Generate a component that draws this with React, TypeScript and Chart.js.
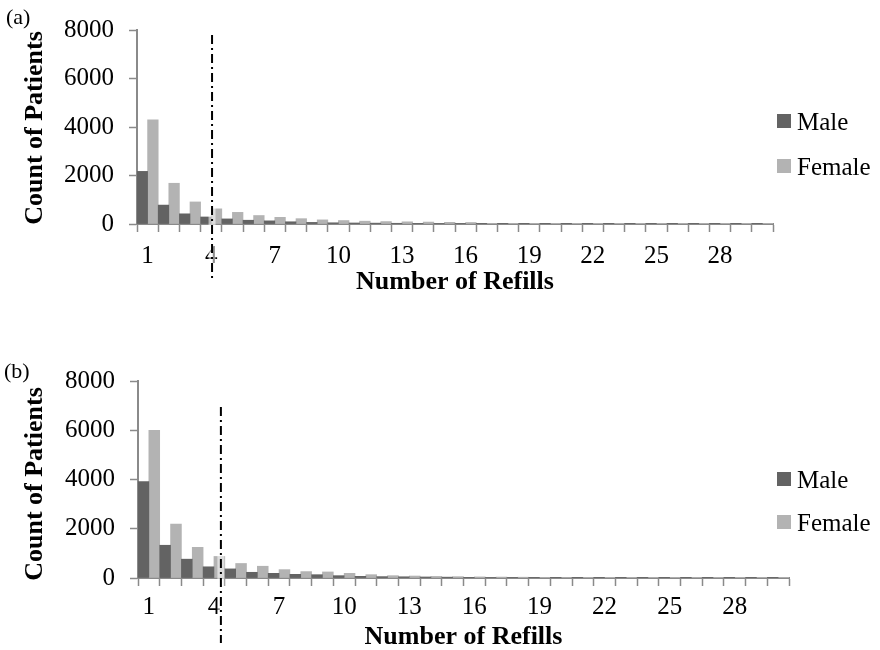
import React, { useEffect, useRef } from "react";
import { Chart, registerables } from "chart.js";

Chart.register(...registerables);

// ---------- data ----------
const refillLabels = [
  "1", "2", "3", "4", "5", "6", "7", "8", "9", "10",
  "11", "12", "13", "14", "15", "16", "17", "18", "19", "20",
  "21", "22", "23", "24", "25", "26", "27", "28", "29", "30",
];

const maleA = [
  2170, 780, 420, 290, 210, 156, 130, 92, 66, 50,
  42, 36, 30, 26, 22, 18, 10, 8, 7, 6,
  5, 4, 4, 3, 3, 2, 2, 2, 1, 1,
];
const femaleA = [
  4300, 1680, 910, 625, 480, 350, 275, 220, 170, 143,
  117, 100, 90, 80, 70, 62, 14, 12, 10, 8,
  7, 6, 5, 4, 4, 3, 3, 2, 2, 1,
];

const maleB = [
  3920, 1330, 765, 455, 370, 232, 190, 150, 135, 95,
  68, 56, 50, 42, 35, 28, 22, 18, 15, 12,
  6, 5, 4, 4, 3, 3, 2, 2, 1, 1,
];
const femaleB = [
  6000, 2190, 1245, 875, 590, 478, 340, 260, 246, 190,
  135, 95, 80, 65, 55, 45, 38, 32, 27, 22,
  9, 8, 7, 6, 5, 4, 3, 3, 2, 2,
];

const yTickValues = [0, 2000, 4000, 6000, 8000];
const seriesNames = ["Male", "Female"];
const cutoffA = 4.04;
const cutoffB = 4.32;

// ---------- styles ----------
const MALE_COLOR = "#636363";
const FEMALE_COLOR = "#b3b3b3";
const AXIS_COLOR = "#8a8a8a";
const FONT = '"Liberation Serif", "Times New Roman", serif';

type PanelProps = {
  male: number[];
  female: number[];
  cutoff: number;
  label: string;
  height: number;
  plotLeft: number;
  plotRight: number;
  plotTop: number;
  plotBottom: number;
  tickPad: number;
  titlePad: number;
  yTitleY: number;
  labelX: number;
  labelY: number;
  legendTop: number;
  legendGap: number;
  lineTop: number;
  lineBottom: number;
};

function Panel(p: PanelProps) {
  const ref = useRef<HTMLCanvasElement | null>(null);

  useEffect(() => {
    if (!ref.current) return;
    const W = 880;

    const overlay = {
      id: "overlay",
      afterDraw(chart: any) {
        const { ctx } = chart;
        const x = chart.scales.x;
        ctx.save();
        // panel label
        ctx.fillStyle = "#000";
        ctx.font = `22px ${FONT}`;
        ctx.textAlign = "left";
        ctx.textBaseline = "alphabetic";
        ctx.fillText(p.label, p.labelX, p.labelY);

        // y-axis title
        ctx.save();
        ctx.translate(42, p.yTitleY);
        ctx.rotate(-Math.PI / 2);
        ctx.font = `bold 26px ${FONT}`;
        ctx.textAlign = "center";
        ctx.fillText("Count of Patients", 0, 0);
        ctx.restore();

        // legend
        chart.data.datasets.forEach((ds: any, i: number) => {
          const top = p.legendTop + i * p.legendGap;
          ctx.fillStyle = ds.backgroundColor;
          ctx.fillRect(777, top, 14, 14);
          ctx.fillStyle = "#000";
          ctx.font = `25px ${FONT}`;
          ctx.textAlign = "left";
          ctx.textBaseline = "alphabetic";
          ctx.fillText(ds.label, 797, top + 16);
        });

        // cutoff dash-dot line
        const n = chart.data.labels.length;
        const cw = (x.right - x.left) / n;
        const base = Math.floor(p.cutoff);
        const px = x.getPixelForValue(base - 1) + (p.cutoff - base) * cw;
        ctx.strokeStyle = "rgba(255,255,255,0.55)";
        ctx.lineWidth = 7;
        ctx.beginPath();
        ctx.moveTo(px, p.lineTop);
        ctx.lineTo(px, p.lineBottom);
        ctx.stroke();
        ctx.strokeStyle = "#000";
        ctx.lineWidth = 2;
        ctx.setLineDash([9, 4, 2, 4]);
        ctx.beginPath();
        ctx.moveTo(px, p.lineTop);
        ctx.lineTo(px, p.lineBottom);
        ctx.stroke();
        ctx.restore();
      },
    };

    const chart = new Chart(ref.current, {
      type: "bar",
      data: {
        labels: refillLabels,
        datasets: [
          {
            label: seriesNames[0],
            data: p.male,
            backgroundColor: MALE_COLOR,
            borderWidth: 0,
            barPercentage: 1,
            categoryPercentage: 1,
          },
          {
            label: seriesNames[1],
            data: p.female,
            backgroundColor: FEMALE_COLOR,
            borderWidth: 0,
            barPercentage: 1,
            categoryPercentage: 1,
          },
        ],
      },
      options: {
        responsive: false,
        animation: false,
        devicePixelRatio: 1,
        layout: {
          padding: {
            left: 0,
            right: W - p.plotRight,
            top: p.plotTop,
            bottom: 0,
          },
        },
        plugins: {
          legend: { display: false },
          tooltip: { enabled: false },
          title: { display: false },
        },
        scales: {
          x: {
            type: "category",
            offset: true,
            grid: {
              offset: true,
              drawOnChartArea: false,
              drawTicks: true,
              tickLength: 8,
              tickWidth: 1.5,
              color: AXIS_COLOR,
            },
            border: { display: true, color: AXIS_COLOR, width: 2 },
            ticks: {
              autoSkip: false,
              maxRotation: 0,
              minRotation: 0,
              padding: p.tickPad,
              color: "#000",
              font: { family: FONT, size: 25 },
              callback: (_v: any, i: number) => (i % 3 === 0 ? refillLabels[i] : ""),
            },
            title: {
              display: true,
              text: "Number of Refills",
              color: "#000",
              font: { family: FONT, size: 26, weight: "bold", lineHeight: 1 },
              padding: { top: 0, bottom: p.titlePad },
            },
            afterFit: (s: any) => {
              s.height = p.height - p.plotBottom;
            },
          },
          y: {
            min: 0,
            max: 8000,
            afterBuildTicks: (s: any) => {
              s.ticks = yTickValues.map((v) => ({ value: v }));
            },
            grid: {
              drawOnChartArea: false,
              drawTicks: true,
              tickLength: 8,
              tickWidth: 1.5,
              color: AXIS_COLOR,
            },
            border: { display: true, color: AXIS_COLOR, width: 2 },
            ticks: {
              padding: 15,
              color: "#000",
              font: { family: FONT, size: 25 },
              callback: (v: any) => String(v),
            },
            afterFit: (s: any) => {
              s.width = p.plotLeft;
            },
          },
        },
      },
      plugins: [overlay],
    } as any);

    return () => chart.destroy();
  }, []);

  return (
    <canvas
      ref={ref}
      width={880}
      height={p.height}
      style={{ display: "block", width: 880, height: p.height }}
    />
  );
}

export default function App() {
  return (
    <div
      style={{
        position: "absolute",
        left: 0,
        top: 0,
        width: 880,
        height: 650,
        background: "#fff",
      }}
    >
      <Panel
        male={maleA}
        female={femaleA}
        cutoff={cutoffA}
        label="(a)"
        height={300}
        plotLeft={137}
        plotRight={773}
        plotTop={19}
        plotBottom={224}
        tickPad={9}
        titlePad={5}
        yTitleY={128}
        labelX={6}
        labelY={24}
        legendTop={114}
        legendGap={45}
        lineTop={35}
        lineBottom={280}
      />
      <Panel
        male={maleB}
        female={femaleB}
        cutoff={cutoffB}
        label="(b)"
        height={350}
        plotLeft={138}
        plotRight={789}
        plotTop={81}
        plotBottom={278}
        tickPad={6}
        titlePad={0}
        yTitleY={184}
        labelX={4}
        labelY={78}
        legendTop={172}
        legendGap={43}
        lineTop={107}
        lineBottom={343}
      />
    </div>
  );
}
